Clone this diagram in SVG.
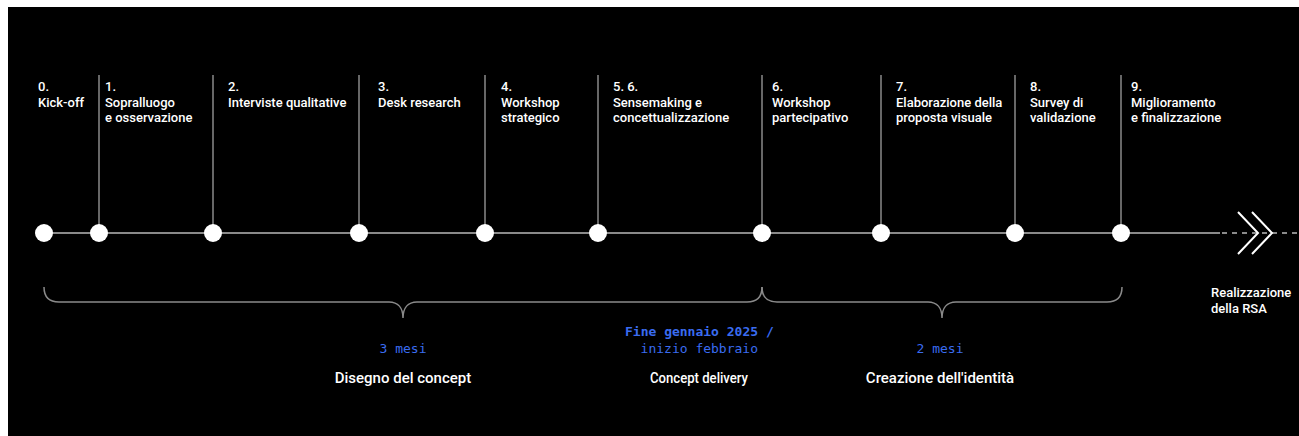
<svg xmlns="http://www.w3.org/2000/svg" width="1299" height="436" viewBox="0 0 1299 436">
<style>
.lbl{font-family:Roboto,"Liberation Sans",sans-serif;font-size:13px;font-weight:500;fill:#ffffff}
.dot{fill:#ffffff}
.stem{stroke:#8a8a8a;stroke-width:1.5;fill:none}
.brace{stroke:#8a8a8a;stroke-width:1.5;fill:none}
.mono{font-family:"DejaVu Sans Mono","Liberation Mono",monospace;font-size:13px;fill:#3a6cf0}
.phase{font-family:Roboto,"Liberation Sans",sans-serif;font-size:15px;font-weight:500;fill:#ffffff;text-anchor:middle}
</style>
<rect x="0" y="0" width="1299" height="436" fill="#ffffff"/>
<rect x="8" y="7" width="1291" height="429" fill="#000000"/>
<g id="connectors">
<line x1="44" y1="233" x2="1220" y2="233" stroke="#8a8a8a" stroke-width="1.8"/>
<line x1="1222" y1="233" x2="1299" y2="233" stroke="#8a8a8a" stroke-width="1.8" stroke-dasharray="5 5"/>
<line class="stem" x1="99" y1="75" x2="99" y2="233"/>
<line class="stem" x1="213" y1="75" x2="213" y2="233"/>
<line class="stem" x1="359" y1="75" x2="359" y2="233"/>
<line class="stem" x1="485" y1="75" x2="485" y2="233"/>
<line class="stem" x1="598" y1="75" x2="598" y2="233"/>
<line class="stem" x1="762" y1="75" x2="762" y2="233"/>
<line class="stem" x1="881" y1="75" x2="881" y2="233"/>
<line class="stem" x1="1015" y1="75" x2="1015" y2="233"/>
<line class="stem" x1="1121" y1="75" x2="1121" y2="233"/>
<path d="M1238,212 L1258,233 L1238,254 M1252,212 L1272,233 L1252,254" stroke="#ffffff" stroke-width="2" fill="none"/>
</g>
<g id="m0"><circle class="dot" cx="44" cy="233" r="9"/><text class="lbl" x="38" y="91">0.</text><text class="lbl" x="38" y="106.5">Kick-off</text></g>
<g id="m1"><circle class="dot" cx="99" cy="233" r="9"/><text class="lbl" x="105" y="91">1.</text><text class="lbl" x="105" y="106.5">Sopralluogo</text><text class="lbl" x="105" y="122">e osservazione</text></g>
<g id="m2"><circle class="dot" cx="213" cy="233" r="9"/><text class="lbl" x="228" y="91">2.</text><text class="lbl" x="228" y="106.5">Interviste qualitative</text></g>
<g id="m3"><circle class="dot" cx="359" cy="233" r="9"/><text class="lbl" x="378" y="91">3.</text><text class="lbl" x="378" y="106.5">Desk research</text></g>
<g id="m4"><circle class="dot" cx="485" cy="233" r="9"/><text class="lbl" x="501" y="91">4.</text><text class="lbl" x="501" y="106.5">Workshop</text><text class="lbl" x="501" y="122">strategico</text></g>
<g id="m56"><circle class="dot" cx="598" cy="233" r="9"/><text class="lbl" x="613" y="91">5. 6.</text><text class="lbl" x="613" y="106.5">Sensemaking e</text><text class="lbl" x="613" y="122">concettualizzazione</text></g>
<g id="m6"><circle class="dot" cx="762" cy="233" r="9"/><text class="lbl" x="772" y="91">6.</text><text class="lbl" x="772" y="106.5">Workshop</text><text class="lbl" x="772" y="122">partecipativo</text></g>
<g id="m7"><circle class="dot" cx="881" cy="233" r="9"/><text class="lbl" x="896" y="91">7.</text><text class="lbl" x="896" y="106.5">Elaborazione della</text><text class="lbl" x="896" y="122">proposta visuale</text></g>
<g id="m8"><circle class="dot" cx="1015" cy="233" r="9"/><text class="lbl" x="1030" y="91">8.</text><text class="lbl" x="1030" y="106.5">Survey di</text><text class="lbl" x="1030" y="122">validazione</text></g>
<g id="m9"><circle class="dot" cx="1121" cy="233" r="9"/><text class="lbl" x="1131" y="91">9.</text><text class="lbl" x="1131" y="106.5">Miglioramento</text><text class="lbl" x="1131" y="122">e finalizzazione</text></g>
<g id="rsa"><text class="lbl" x="1211" y="297" font-weight="700">Realizzazione</text><text class="lbl" x="1211" y="312.5" font-weight="700">della RSA</text></g>
<g id="phase-concept">
<path class="brace" d="M44,287 Q44,302 59,302 L389,302 C398,302 403,308 403,318 C403,308 408,302 417,302 L747,302 Q762,302 762,287"/>
<text class="mono" x="403" y="352.5" text-anchor="middle">3 mesi</text>
<text class="phase" x="403" y="382.5">Disegno del concept</text>
</g>
<g id="delivery">
<text class="mono" x="625" y="336" font-weight="700">Fine gennaio 2025 /</text>
<text class="mono" x="758" y="352.5" text-anchor="end">inizio febbraio</text>
<text class="phase" x="699" y="383" font-size="13" font-weight="700" textLength="98" lengthAdjust="spacingAndGlyphs">Concept delivery</text>
</g>
<g id="phase-identity">
<path class="brace" d="M762,287 Q762,302 777,302 L928,302 C937,302 942,308 942,318 C942,308 947,302 956,302 L1107,302 Q1122,302 1122,287"/>
<text class="mono" x="940" y="352.5" text-anchor="middle">2 mesi</text>
<text class="phase" x="940" y="382.5">Creazione dell'identità</text>
</g>
</svg>
